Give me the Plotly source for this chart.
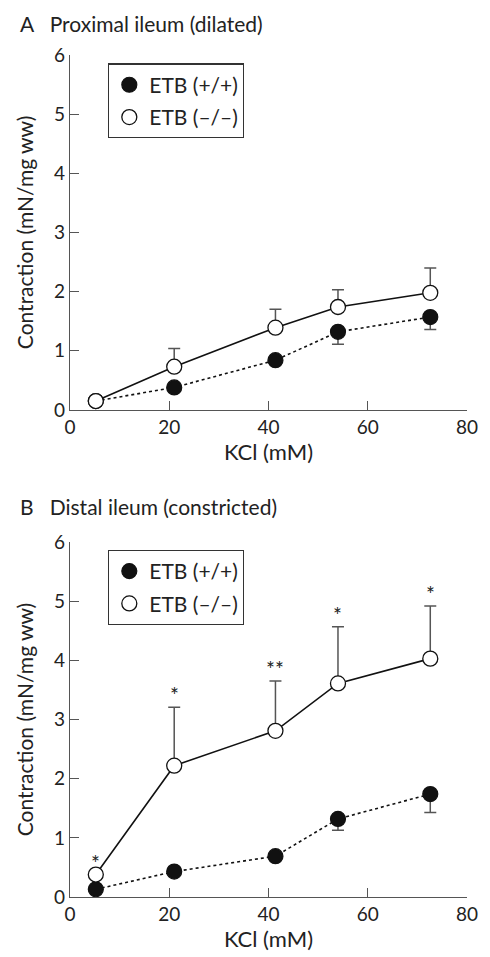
import plotly.graph_objects as go
from plotly.subplots import make_subplots

kcl = [5.2, 21.0, 41.4, 54.0, 72.6]

# Panel A: proximal ileum (dilated)
a_wt = [0.15, 0.38, 0.84, 1.32, 1.57]
a_wt_err = [0.0, 0.0, 0.0, 0.21, 0.21]
a_ko = [0.15, 0.73, 1.39, 1.74, 1.98]
a_ko_err = [0.0, 0.31, 0.31, 0.29, 0.42]

# Panel B: distal ileum (constricted)
b_wt = [0.13, 0.43, 0.69, 1.32, 1.74]
b_wt_err = [0.0, 0.0, 0.0, 0.19, 0.31]
b_ko = [0.38, 2.22, 2.81, 3.61, 4.03]
b_ko_err = [0.0, 0.99, 0.84, 0.96, 0.89]
b_sig = ["*", "*", "**", "*", "*"]

xticks = [0, 20, 40, 60, 80]
yticks = [0, 1, 2, 3, 4, 5, 6]

FONT = "Lato"
TXT = "#222222"
AX = "#555555"

fig = make_subplots(rows=2, cols=1, vertical_spacing=0.157)

def add_panel(row, wt, wt_err, ko, ko_err, legend):
    fig.add_trace(go.Scatter(x=kcl, y=wt, mode="lines",
                             line=dict(color="#111111", width=1.6, dash="3px,3px"),
                             showlegend=False, hoverinfo="skip"), row=row, col=1)
    fig.add_trace(go.Scatter(x=kcl, y=ko, mode="lines",
                             line=dict(color="#111111", width=1.6),
                             showlegend=False, hoverinfo="skip"), row=row, col=1)
    fig.add_trace(go.Scatter(x=kcl, y=wt, mode="markers", name="ETB (+/+)",
                             marker=dict(size=15, color="#111111",
                                         line=dict(color="#111111", width=1.2)),
                             error_y=dict(type="data", symmetric=False,
                                          array=[0]*len(wt), arrayminus=wt_err,
                                          color=AX, thickness=1.5, width=6),
                             legend=legend, legendgroup="wt" + legend,
                             cliponaxis=False), row=row, col=1)
    fig.add_trace(go.Scatter(x=kcl, y=ko, mode="markers", name="ETB (–/–)",
                             marker=dict(size=15, color="white",
                                         line=dict(color="#111111", width=1.3)),
                             error_y=dict(type="data", symmetric=False,
                                          array=ko_err, arrayminus=[0]*len(ko),
                                          color=AX, thickness=1.5, width=6),
                             legend=legend, legendgroup="ko" + legend,
                             cliponaxis=False), row=row, col=1)

add_panel(1, a_wt, a_wt_err, a_ko, a_ko_err, "legend")
add_panel(2, b_wt, b_wt_err, b_ko, b_ko_err, "legend2")

for xv, yv, ev, s in zip(kcl, b_ko, b_ko_err, b_sig):
    fig.add_annotation(x=xv, y=yv + ev, xref="x2", yref="y2", text=s,
                       showarrow=False, yanchor="bottom", yshift=-2,
                       font=dict(family=FONT, size=21, color=TXT))

axis_common = dict(range=[0, 80], tickvals=xticks, ticks="inside", ticklen=9,
                   tickcolor=AX, tickwidth=1.3, showline=True, linecolor=AX,
                   linewidth=1.3, showgrid=False, zeroline=False,
                   tickfont=dict(family=FONT, size=19, color=TXT),
                   title=dict(text="KCl (mM)", font=dict(family=FONT, size=22, color=TXT),
                              standoff=5))
yaxis_common = dict(range=[0, 6], tickvals=yticks, ticks="inside", ticklen=9,
                    tickcolor=AX, tickwidth=1.3, showline=True, linecolor=AX,
                    linewidth=1.3, showgrid=False, zeroline=False,
                    tickfont=dict(family=FONT, size=19, color=TXT),
                    title=dict(text="Contraction (mN/mg ww)",
                               font=dict(family=FONT, size=21, color=TXT), standoff=14))

fig.update_xaxes(**axis_common)
fig.update_yaxes(**yaxis_common)
fig.update_yaxes(domain=[0.5785, 1.0], row=1, col=1)
fig.update_yaxes(domain=[0.0, 0.4215], row=2, col=1)

fig.add_annotation(x=-0.131, y=1.0374, xref="paper", yref="paper", xanchor="left",
                   yanchor="middle", text="A   Proximal ileum (dilated)", showarrow=False,
                   font=dict(family=FONT, size=21, color=TXT))
fig.add_annotation(x=-0.131, y=0.4636, xref="paper", yref="paper", xanchor="left",
                   yanchor="middle", text="B   Distal ileum (constricted)", showarrow=False,
                   font=dict(family=FONT, size=21, color=TXT))

legend_style = dict(bgcolor="white", bordercolor="#333333", borderwidth=1.2,
                    font=dict(family=FONT, size=21, color=TXT),
                    xanchor="left", yanchor="top", x=0.096,
                    tracegroupgap=2, itemwidth=30)
fig.update_layout(
    width=490, height=957,
    margin=dict(l=70, r=17, t=55, b=55),
    plot_bgcolor="white", paper_bgcolor="white",
    font=dict(family=FONT, color=TXT),
    legend=dict(y=0.990, **legend_style),
    legend2=dict(y=0.4124, **legend_style),
)

fig.write_html("out.html", config={"displayModeBar": False},
               post_script="document.body.style.margin='0';")
